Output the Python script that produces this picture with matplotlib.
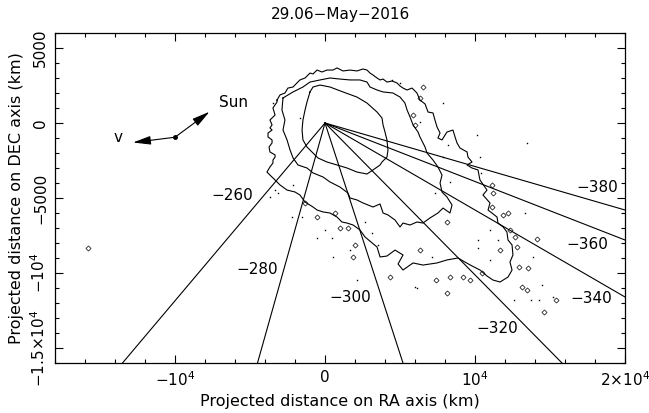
import numpy as np
import matplotlib
matplotlib.use("Agg")
import matplotlib.pyplot as plt

# contour outlines, thousands of km (RA, DEC)
outer_x = [-3.2, -3.0, -2.67, -2.47, -2.13, -1.87, -1.67, -1.33, -1.0, -0.8, -0.53, -0.2, 0.13,
           0.53, 0.8, 1.2, 1.67, 2.13, 2.53, 2.8, 3.0, 3.2, 3.47, 3.67, 3.87, 4.13, 4.47, 4.8,
           5.0, 5.2, 5.47, 5.8, 6.13, 6.33, 6.67, 6.87, 7.2, 7.33, 7.47, 7.67, 7.53, 7.8, 8.13,
           8.53, 8.67, 8.8, 9.0, 9.47, 9.53, 9.8, 9.47, 9.8, 10.2, 10.33, 10.8, 10.53, 11.0, 10.87,
           11.47, 11.53, 11.87, 12.13, 12.2, 12.47, 12.53, 12.33, 12.47, 12.2, 11.67, 11.2, 10.8,
           10.33, 9.8, 9.33, 8.87, 8.13, 7.47, 6.53, 5.87, 5.2, 4.87, 5.2, 4.67, 4.13, 3.67, 3.47,
           2.67, 2.33, 1.87, 1.47, 1.13, 0.8, 0.33, -0.13, -0.53, -0.8, -1.33, -1.67, -2.0, -2.53,
           -3.0, -3.33, -3.67, -3.87, -3.67, -3.47, -3.47, -3.33, -3.33, -3.67, -3.73, -3.53,
           -3.53, -3.8, -3.8, -3.53, -3.67, -3.53, -3.67, -3.33, -3.47, -3.2, -3.2]
outer_y = [1.53, 1.87, 2.0, 2.33, 2.4, 2.67, 2.87, 3.0, 3.33, 3.27, 3.53, 3.4, 3.53, 3.53, 3.67,
           3.47, 3.53, 3.47, 3.6, 3.53, 3.33, 3.2, 3.0, 2.87, 2.93, 2.73, 2.8, 2.67, 2.47, 2.33,
           2.2, 2.33, 2.0, 1.53, 1.27, 0.73, 0.67, 0.2, -0.27, -0.67, -1.0, -1.13, -0.6, -0.47,
           -0.93, -1.33, -1.67, -1.93, -2.27, -2.6, -2.8, -3.0, -3.13, -3.8, -4.47, -4.8, -5.33,
           -5.8, -6.27, -6.67, -6.93, -7.27, -7.8, -8.13, -8.8, -9.27, -9.8, -10.27, -10.6, -10.47,
           -10.2, -9.8, -9.53, -9.27, -9.0, -9.13, -9.33, -9.47, -9.33, -9.8, -9.4, -8.8, -8.47,
           -8.87, -8.93, -8.27, -7.6, -7.13, -6.8, -6.67, -6.6, -6.27, -6.0, -5.93, -5.8, -5.6,
           -5.27, -4.8, -4.6, -4.47, -4.13, -3.8, -3.47, -3.27, -2.93, -2.67, -2.47, -2.27, -2.13,
           -1.93, -1.6, -1.33, -1.13, -0.93, -0.67, -0.47, -0.33, -0.13, 0.2, 0.53, 1.0, 1.4, 1.53]

middle_x = [-2.8, -2.13, -1.47, -1.0, -0.33, 0.33, 1.0, 1.67, 2.33, 2.8, 3.0, 3.47, 3.87, 4.53,
            5.0, 5.33, 5.47, 5.67, 5.87, 6.2, 6.33, 6.67, 6.8, 7.2, 7.53, 7.8, 7.67, 7.8, 8.13,
            8.47, 8.33, 7.87, 7.53, 7.0, 6.53, 6.13, 5.67, 5.2, 5.0, 4.67, 4.2, 3.87, 3.67, 3.2,
            2.53, 2.13, 1.67, 1.53, 1.0, 0.33, -0.13, -0.8, -1.2, -1.8, -2.13, -2.33, -2.53, -2.8,
            -2.67, -2.87, -2.8]
middle_y = [1.67, 2.07, 2.4, 2.73, 2.87, 3.0, 2.93, 2.87, 2.87, 2.73, 2.4, 2.2, 2.07, 2.0, 1.73,
            1.33, 0.87, 0.4, -0.13, -0.6, -0.93, -1.6, -2.0, -2.47, -2.93, -3.47, -4.0, -4.6,
            -4.93, -5.47, -6.0, -5.67, -6.0, -6.33, -6.67, -6.6, -6.8, -6.67, -6.93, -6.47, -6.13,
            -6.0, -5.4, -5.6, -5.33, -5.13, -5.0, -4.67, -4.27, -3.93, -3.6, -3.33, -3.0, -2.8,
            -2.33, -1.8, -1.13, -0.47, 0.2, 0.87, 1.67]

inner_x = [-1.0, -0.8, -0.33, 0.33, 1.2, 2.13, 2.8, 3.47, 3.8, 3.87, 4.0, 4.13, 4.2, 4.13, 3.8,
           3.67, 3.2, 2.8, 2.13, 1.47, 0.8, 0.13, -0.47, -0.8, -1.2, -1.47, -1.53, -1.47, -1.33,
           -1.2, -1.0]
inner_y = [2.07, 2.4, 2.53, 2.4, 2.07, 1.73, 1.33, 0.73, 0.33, -0.13, -0.6, -1.13, -1.8, -2.27,
           -2.6, -2.8, -3.13, -3.4, -3.27, -3.0, -2.8, -2.6, -2.33, -2.0, -1.6, -1.13, -0.47, 0.2,
           0.87, 1.4, 2.07]

# small isolated contour islands and single-pixel spots (thousands of km)
blob_x = [6.53, 6.33, 5.87, 6.0, -1.33, -0.53, 1.0, 1.53, 0.67, 2.0, 1.87, 6.33, 11.13, 11.2,
          11.87, 12.2, 12.33, 12.67, 14.13, 12.8, 11.67, 10.47, 9.2, 9.67, 13.53, 13.13, 8.33,
          8.13, 4.33, 7.4, 12.93, 13.47, 15.4, 14.6, 8.13, 11.13, -15.8]
blob_y = [2.4, 1.67, 0.53, -0.13, -5.33, -6.27, -7.0, -7.0, -6.0, -8.13, -8.93, -8.47, -4.13,
          -4.67, -6.13, -6.0, -7.13, -7.6, -7.73, -8.27, -8.47, -10.0, -10.27, -10.47, -9.67,
          -10.93, -10.27, -11.33, -10.27, -10.47, -9.6, -11.13, -11.8, -12.6, -6.6, -5.6, -8.33]
dot_x = [-3.47, -1.67, 4.47, 5.0, 7.87, 6.33, 10.13, 8.2, 13.47, 10.4, 10.33, 7.87, 8.33, 7.33,
         13.33, 11.0, 11.53, 10.2, 10.2, 11.0, 13.87, 7.13, 14.47, 6.0, 15.2, -3.13, -3.33, -3.67,
         -2.13, -2.2, -1.53, 0.0, -0.53, 0.47, 2.67, 3.13, 1.67, 0.53, 2.13, 6.13, 12.6, 13.73,
         14.27, 3.53]
dot_y = [1.33, 0.33, 2.87, 2.67, 1.33, 0.07, -0.8, -1.47, -1.33, -3.33, -2.27, -2.27, -3.93,
         -4.67, -6.0, -7.13, -7.8, -7.8, -8.33, -9.13, -8.93, -8.93, -10.8, -10.93, -11.6, -4.67,
         -4.47, -4.93, -4.13, -6.27, -6.27, -7.13, -7.67, -7.67, -6.6, -7.33, -8.47, -8.93, -10.47,
         -11.0, -11.8, -11.8, -11.8, -8.13]

# position-angle lines from the nucleus: far end (km) and label
pa_labels = ["\u2212260", "\u2212280", "\u2212300", "\u2212320", "\u2212340", "\u2212360", "\u2212380"]
pa_end_x = [-13500, -4500, 5200, 15800, 20000, 20000, 20000]
pa_end_y = [-16000, -16000, -16000, -16000, -11600, -7800, -5800]
pa_lab_x = [-6200, -4530, 1670, 11470, 17730, 17470, 18130]
pa_lab_y = [-4800, -9800, -11600, -13670, -11730, -8130, -4270]

# Sun and velocity direction arrows (km)
arrow_base = (-10000, -950)
sun_tip = (-7700, 750)
v_tip = (-12800, -1300)

xticks = [-10000, 0, 10000, 20000]
xticklabels = ["$-10^4$", "0", "$10^4$", "$2{\\times}10^4$"]
yticks = [-15000, -10000, -5000, 0, 5000]
yticklabels = ["\u22121.5\u00d710$^4$", "\u221210$^4$", "\u22125000", "0", "5000"]

plt.rcParams["font.family"] = "DejaVu Sans"
plt.rcParams["mathtext.fontset"] = "dejavusans"

fig = plt.figure(figsize=(6.49, 4.13), dpi=100)
ax = fig.add_axes([55 / 649, 50 / 413, 570 / 649, 330 / 413])

lw = 0.8
for cx, cy in [(outer_x, outer_y), (middle_x, middle_y), (inner_x, inner_y)]:
    ax.plot(np.array(cx) * 1e3, np.array(cy) * 1e3, color="black", lw=lw)

ax.plot(np.array(blob_x) * 1e3, np.array(blob_y) * 1e3, "D", ms=2.6, mfc="none",
        mec="black", mew=0.5, ls="none")
ax.plot(np.array(dot_x) * 1e3, np.array(dot_y) * 1e3, "s", ms=1.0, mew=0, color="black",
        ls="none")

for ex, ey, lab, lx, ly in zip(pa_end_x, pa_end_y, pa_labels, pa_lab_x, pa_lab_y):
    ax.plot([0, ex], [0, ey], color="black", lw=lw)
    ax.text(lx, ly, lab, fontsize=11, ha="center", va="center")

arrow_kw = dict(arrowstyle="-|>,head_length=0.9,head_width=0.22", color="black", lw=lw,
                shrinkA=0, shrinkB=0, mutation_scale=12)
ax.annotate("", xy=sun_tip, xytext=arrow_base, arrowprops=arrow_kw)
ax.annotate("", xy=v_tip, xytext=arrow_base, arrowprops=arrow_kw)
ax.plot(*arrow_base, "o", ms=2.5, color="black")
ax.text(-7100, 1350, "Sun", fontsize=11, ha="left", va="center")
ax.text(-13800, -1000, "v", fontsize=11, ha="center", va="center")

ax.set_xlim(-18000, 20000)
ax.set_ylim(-16000, 6000)
ax.set_xticks(xticks)
ax.set_xticklabels(xticklabels)
ax.set_yticks(yticks)
ax.set_yticklabels(yticklabels, rotation=90, va="center")
ax.set_xticks(np.arange(-18000, 20001, 2000), minor=True)
ax.set_yticks(np.arange(-16000, 6001, 1000), minor=True)
ax.tick_params(which="both", direction="in", top=True, right=True, width=0.8, labelsize=11)
ax.tick_params(which="major", length=6, pad=5)
ax.tick_params(which="minor", length=3)
for s in ax.spines.values():
    s.set_linewidth(0.9)

ax.set_xlabel("Projected distance on RA axis (km)", fontsize=11.5, labelpad=4)
ax.set_ylabel("Projected distance on DEC axis (km)", fontsize=11.5, labelpad=4)
ax.set_title("29.06\u2212May\u22122016", fontsize=11, pad=10)

fig.savefig("out.png", dpi=100)
